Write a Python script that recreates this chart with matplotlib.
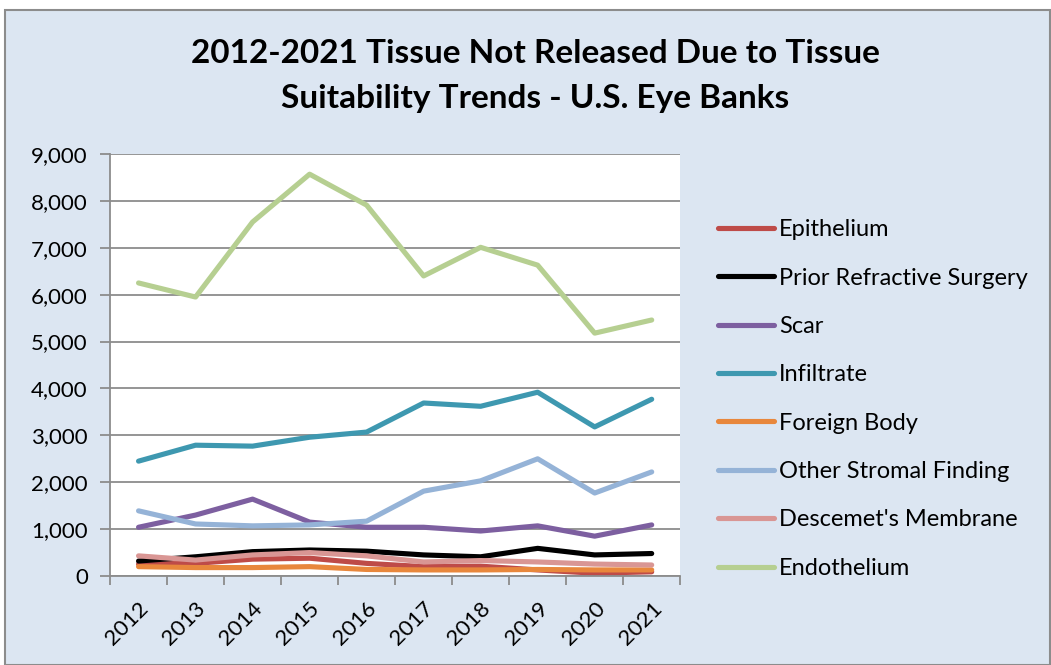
import numpy as np
import matplotlib.pyplot as plt
from matplotlib.patches import Rectangle
from matplotlib.ticker import FuncFormatter

plt.rcParams['font.family'] = ['Lato', 'DejaVu Sans']

years = ['2012', '2013', '2014', '2015', '2016', '2017', '2018', '2019', '2020', '2021']

epithelium = [255, 270, 360, 380, 270, 200, 210, 130, 60, 90]
prior_refractive = [320, 410, 520, 555, 530, 450, 410, 590, 450, 480]
scar = [1040, 1300, 1640, 1150, 1040, 1040, 960, 1070, 850, 1090]
infiltrate = [2450, 2790, 2770, 2960, 3070, 3690, 3620, 3920, 3180, 3770]
foreign_body = [200, 180, 180, 200, 140, 130, 130, 140, 130, 130]
other_stromal = [1390, 1110, 1070, 1090, 1170, 1810, 2030, 2500, 1770, 2220]
descemets = [430, 340, 450, 500, 430, 300, 330, 300, 255, 235]
endothelium = [6250, 5950, 7550, 8570, 7910, 6400, 7010, 6630, 5180, 5460]

series = [
    ('Epithelium', epithelium, '#BE4B48'),
    ('Prior Refractive Surgery', prior_refractive, '#000000'),
    ('Scar', scar, '#7D5FA0'),
    ('Infiltrate', infiltrate, '#3E98B0'),
    ('Foreign Body', foreign_body, '#E8873C'),
    ('Other Stromal Finding', other_stromal, '#95B3D7'),
    ("Descemet's Membrane", descemets, '#D99694'),
    ('Endothelium', endothelium, '#B6CF91'),
]

fig = plt.figure(figsize=(10.51, 6.65), dpi=100, facecolor='white')
fig.patches.append(Rectangle((0.005, 0.0), 0.994, 0.985, transform=fig.transFigure,
                             facecolor='#DCE6F2', edgecolor='#8C8C8C', linewidth=1.5,
                             zorder=-1))

ax = fig.add_axes([0.1047, 0.1338, 0.5425, 0.6346])
ax.set_facecolor('white')

x = np.arange(len(years))
for name, vals, col in series:
    ax.plot(x, vals, color=col, linewidth=3.7, label=name, solid_capstyle='round')

ax.set_xlim(-0.5, len(years) - 0.5)
ax.set_ylim(0, 9000)
ax.set_yticks(np.arange(0, 9001, 1000))
ax.yaxis.set_major_formatter(FuncFormatter(lambda v, p: f'{int(v):,}'))
ax.grid(axis='y', color='#8C8C8C', linewidth=1.3)
ax.set_axisbelow(True)

# category ticks sit between the years
ax.set_xticks(np.arange(-0.5, len(years), 1.0))
ax.set_xticklabels([])
ax.set_xticks(x, minor=True)
ax.set_xticklabels(years, minor=True, rotation=45, ha='right', va='top',
                   rotation_mode='anchor', fontsize=16)
ax.tick_params(axis='x', which='minor', length=0, pad=16)
ax.tick_params(axis='x', which='major', length=6.5, color='#8C8C8C', width=1.3)
ax.tick_params(axis='y', length=7, color='#8C8C8C', width=1.3, labelsize=16, pad=9)

for side in ['top', 'right']:
    ax.spines[side].set_visible(False)
for side in ['left', 'bottom']:
    ax.spines[side].set_color('#8C8C8C')
    ax.spines[side].set_linewidth(1.3)

fig.text(0.509, 0.920, '2012-2021 Tissue Not Released Due to Tissue',
         ha='center', va='center', fontsize=24, fontweight='bold')
fig.text(0.509, 0.852, 'Suitability Trends - U.S. Eye Banks',
         ha='center', va='center', fontsize=24, fontweight='bold')

ax.legend(loc='upper left', bbox_to_anchor=(0.683, 0.6705), bbox_transform=fig.transFigure,
          frameon=False, fontsize=17, handlelength=2.4, handletextpad=0.2,
          labelspacing=1.16, borderaxespad=0, borderpad=0)

fig.savefig('out.png', dpi=100, facecolor=fig.get_facecolor())
